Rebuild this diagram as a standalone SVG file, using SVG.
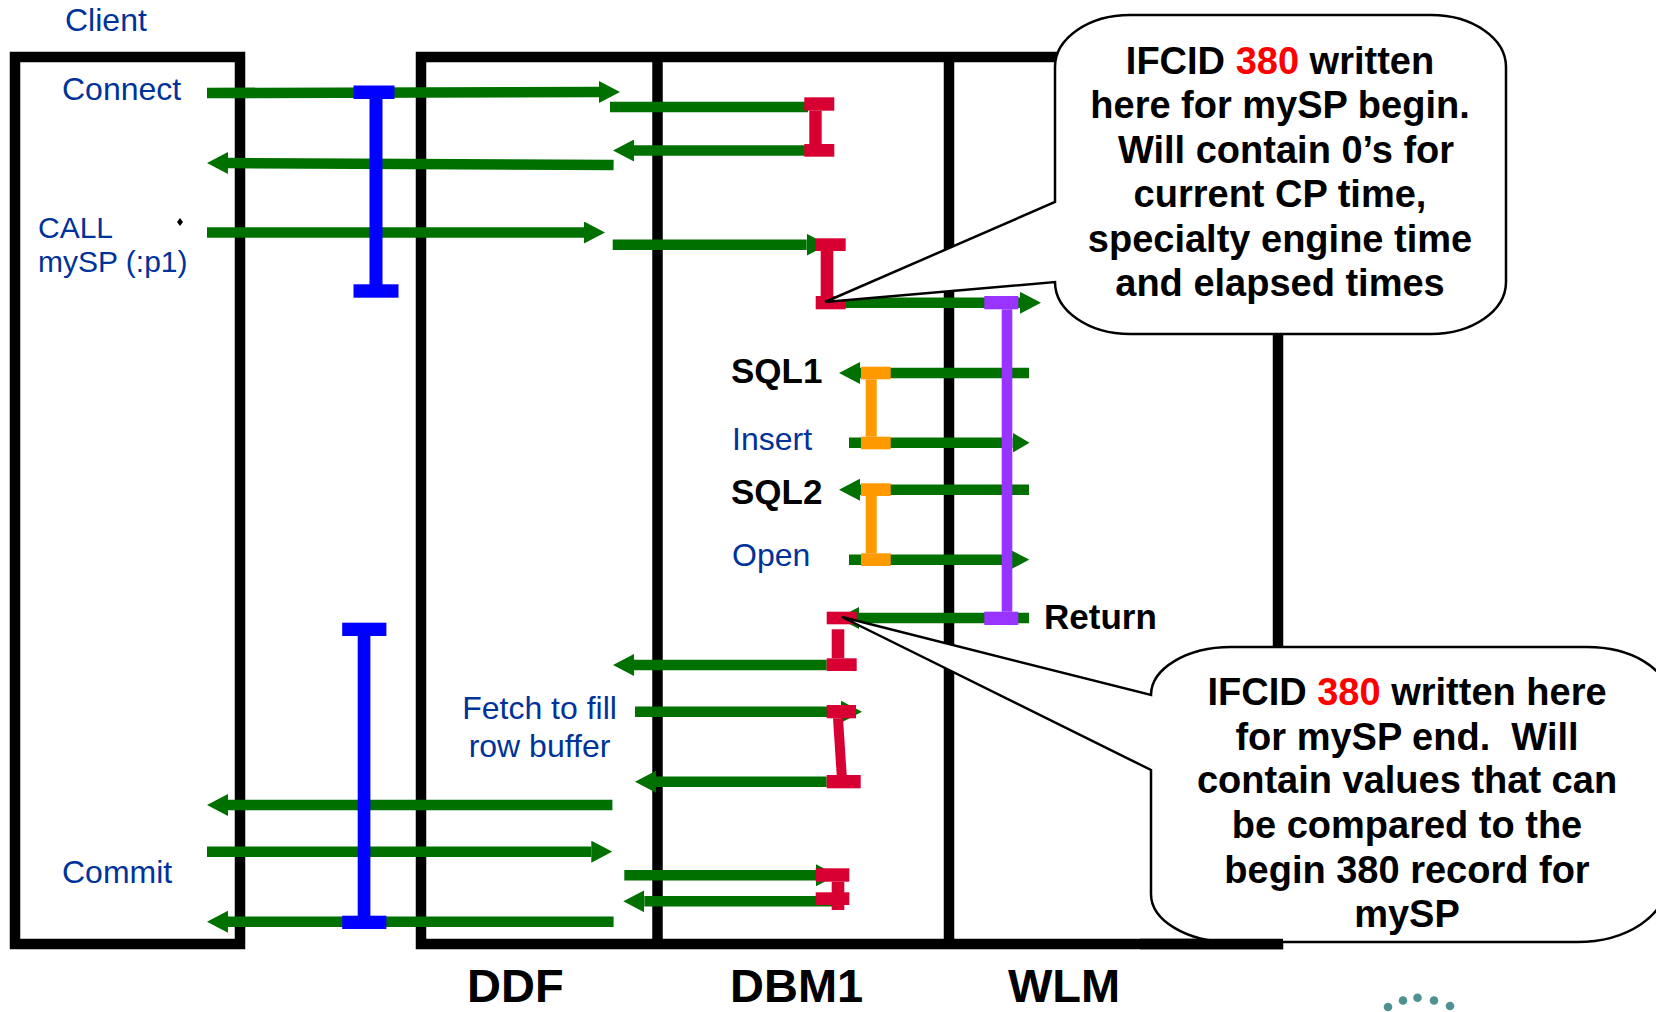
<svg xmlns="http://www.w3.org/2000/svg" width="1656" height="1012" viewBox="0 0 1656 1012">
<style>
text{font-family:"Liberation Sans",Arial,sans-serif}
.lb{fill:#003399;font-size:32px}
.bk{fill:#000;font-size:35px;font-weight:bold}
.ct{fill:#000;font-size:38px;font-weight:bold;text-anchor:middle}
.red{fill:#FF0000}
.frame{fill:none;stroke:#000;stroke-width:10.5}
.a{stroke:#007000;stroke-width:10.5;fill:none}
.blue{fill:#0000FF}
.crim{fill:#D80032}
.org{fill:#FF9900}
.pur{fill:#9933FF}
.callout{fill:#fff;stroke:#000;stroke-width:2.5;stroke-linejoin:miter}
.sys{fill:#000;font-size:47px;font-weight:bold}
</style>
<defs>
<marker id="ah" markerUnits="userSpaceOnUse" markerWidth="21" markerHeight="22" viewBox="0 0 21 22" refX="0" refY="11" orient="auto">
<path d="M0,0 L21,11 L0,22 Z" fill="#007000"/>
</marker>
<marker id="ahs" markerUnits="userSpaceOnUse" markerWidth="17" markerHeight="20" viewBox="0 0 17 20" refX="0" refY="10" orient="auto">
<path d="M0,0 L17,10 L0,20 Z" fill="#007000"/>
</marker>
</defs>
<rect width="1656" height="1012" fill="#fff"/>

<g id="client">
<rect class="frame" x="15" y="57" width="225" height="887"/>
<text class="lb" x="65" y="31">Client</text>
<text class="lb" x="62" y="100">Connect</text>
<text class="lb" x="38" y="238" style="font-size:30px">CALL</text>
<text class="lb" x="38" y="272" style="font-size:30px">mySP (:p1)</text>
<text class="lb" x="62" y="883">Commit</text>
<path d="M180,218 L183,222 L180,226 L177,222 Z" fill="#000"/>
</g>

<g id="ddf-dbm1-wlm">
<rect class="frame" x="421" y="57" width="857" height="887"/>
<line class="frame" x1="657.5" y1="57" x2="657.5" y2="944"/>
<line class="frame" x1="949" y1="57" x2="949" y2="944"/>
</g>

<g id="connectors">
<line class="a" x1="207" y1="93" x2="599" y2="92" marker-end="url(#ah)"/>
<line class="a" x1="610" y1="107" x2="808" y2="107"/>
<line class="a" x1="808" y1="150.5" x2="634" y2="150.5" marker-end="url(#ah)"/>
<line class="a" x1="613.6" y1="165" x2="228" y2="163" marker-end="url(#ah)"/>
<line class="a" x1="207" y1="232.5" x2="584" y2="232.5" marker-end="url(#ah)"/>
<line class="a" x1="612.7" y1="244.7" x2="806.7" y2="244.7" marker-end="url(#ah)"/>
<line class="a" x1="845" y1="302.8" x2="1020" y2="302.8" marker-end="url(#ah)"/>
<line class="a" x1="1029" y1="373" x2="860" y2="373" marker-end="url(#ah)"/>
<line class="a" x1="849" y1="442.8" x2="1012.5" y2="442.8" marker-end="url(#ahs)"/>
<line class="a" x1="1029" y1="489.7" x2="860" y2="489.7" marker-end="url(#ah)"/>
<line class="a" x1="849" y1="559.7" x2="1008.3" y2="559.7" marker-end="url(#ah)"/>
<line class="a" x1="1029" y1="618" x2="859" y2="618" marker-end="url(#ah)"/>
<line class="a" x1="826.7" y1="665" x2="634" y2="665" marker-end="url(#ah)"/>
<line class="a" x1="635" y1="711.7" x2="841" y2="711.7" marker-end="url(#ah)"/>
<line class="a" x1="826.7" y1="781.7" x2="656" y2="781.7" marker-end="url(#ah)"/>
<line class="a" x1="612.4" y1="805" x2="228" y2="805" marker-end="url(#ah)"/>
<line class="a" x1="207" y1="851.7" x2="591.3" y2="851.7" marker-end="url(#ah)"/>
<line class="a" x1="624.3" y1="875.3" x2="816" y2="875.3" marker-end="url(#ah)"/>
<line class="a" x1="833" y1="901.3" x2="644.3" y2="901.3" marker-end="url(#ah)"/>
<line class="a" x1="613.6" y1="921.7" x2="228" y2="921.7" marker-end="url(#ah)"/>
</g>

<g id="blue-bars">
<rect class="blue" x="353.5" y="85.5" width="41" height="13.5"/>
<rect class="blue" x="369.5" y="99" width="13" height="186"/>
<rect class="blue" x="353.5" y="284.3" width="45" height="13.4"/>
<rect class="blue" x="342.2" y="622.7" width="44.2" height="13.3"/>
<rect class="blue" x="357.7" y="636" width="12.7" height="280"/>
<rect class="blue" x="342.2" y="915.7" width="44.2" height="13.3"/>
</g>

<g id="red-bars">
<rect class="crim" x="804.3" y="97.3" width="30" height="13.4"/>
<rect class="crim" x="809.3" y="110.7" width="12.4" height="33.3"/>
<rect class="crim" x="804.3" y="144" width="30" height="12.7"/>
<rect class="crim" x="815.7" y="238.3" width="30" height="12.7"/>
<rect class="crim" x="820.7" y="251" width="12.6" height="45"/>
<rect class="crim" x="815.7" y="296" width="30" height="13.3"/>
<rect class="crim" x="826.7" y="611.7" width="30" height="12.6"/>
<rect class="crim" x="831.7" y="629.3" width="12.6" height="29"/>
<rect class="crim" x="826.7" y="658.3" width="30" height="12.7"/>
<rect class="crim" x="826.7" y="705" width="29.3" height="13.3"/>
<path class="crim" d="M833,718.3 L843,718.3 L846.7,775 L836.7,775 Z"/>
<rect class="crim" x="826.7" y="775" width="34" height="13.3"/>
<rect class="crim" x="815.7" y="868.3" width="33.6" height="13.4"/>
<rect class="crim" x="831.7" y="881.7" width="12.6" height="28.3"/>
<rect class="crim" x="815.7" y="892.3" width="33.6" height="12.7"/>
</g>

<g id="orange-bars">
<rect class="org" x="861" y="366.7" width="29.7" height="12.6"/>
<rect class="org" x="865.7" y="379.3" width="11" height="57.4"/>
<rect class="org" x="861" y="436.7" width="29.7" height="12.6"/>
<rect class="org" x="861" y="483.3" width="29.7" height="12.7"/>
<rect class="org" x="865.7" y="496" width="11" height="57.3"/>
<rect class="org" x="861" y="553.3" width="29.7" height="12.7"/>
</g>

<g id="purple-bar">
<rect class="pur" x="984.3" y="296" width="34" height="13.3"/>
<rect class="pur" x="1001.7" y="309.3" width="10.6" height="302.4"/>
<rect class="pur" x="984.3" y="611.7" width="34" height="13.3"/>
</g>

<g id="labels">
<text class="lb" x="539.5" y="719" text-anchor="middle">Fetch to fill</text>
<text class="lb" x="539.5" y="757" text-anchor="middle">row buffer</text>
<text class="bk" x="731" y="383">SQL1</text>
<text class="lb" x="732" y="450">Insert</text>
<text class="bk" x="731" y="503.5">SQL2</text>
<text class="lb" x="732" y="566">Open</text>
<text class="bk" x="1044" y="628.5">Return</text>
</g>

<g id="callout-begin">
<path class="callout" d="M1130,15 H1431 A75,52 0 0 1 1506,67 V282 A75,52 0 0 1 1431,334 H1130 A75,52 0 0 1 1055,282 L825,302 L1055,202 V67 A75,52 0 0 1 1130,15 Z"/>
<text class="ct" x="1280" y="74">IFCID <tspan class="red">380</tspan> written</text>
<text class="ct" x="1280" y="118">here for mySP begin.</text>
<text class="ct" x="1286" y="163">Will contain 0’s for</text>
<text class="ct" x="1280" y="207">current CP time,</text>
<text class="ct" x="1280" y="252">specialty engine time</text>
<text class="ct" x="1280" y="296">and elapsed times</text>
</g>

<g id="callout-end">
<path class="callout" d="M1231,647 H1587 A80,48 0 0 1 1667,695 V882 A90,60 0 0 1 1577,942 H1231 A80,48 0 0 1 1151,894 V770 L842,617 L1151,695 A80,48 0 0 1 1231,647 Z"/>
<text class="ct" x="1407" y="705">IFCID <tspan class="red">380</tspan> written here</text>
<text class="ct" x="1407" y="750">for mySP end.&#160; Will</text>
<text class="ct" x="1407" y="793">contain values that can</text>
<text class="ct" x="1407" y="838">be compared to the</text>
<text class="ct" x="1407" y="883">begin 380 record for</text>
<text class="ct" x="1407" y="927">mySP</text>
</g>

<line class="frame" x1="1140" y1="944" x2="1283" y2="944"/>

<g id="system-labels">
<text class="sys" x="467" y="1002">DDF</text>
<text class="sys" x="730" y="1002">DBM1</text>
<text class="sys" x="1008" y="1002">WLM</text>
</g>

<g id="logo" fill="#4f9090">
<circle cx="1388" cy="1007" r="4.3"/>
<circle cx="1403" cy="1000.5" r="4.3"/>
<circle cx="1417.5" cy="997.7" r="4.3"/>
<circle cx="1434" cy="1000.5" r="4.3"/>
<circle cx="1450" cy="1006" r="4.3"/>
</g>
</svg>
